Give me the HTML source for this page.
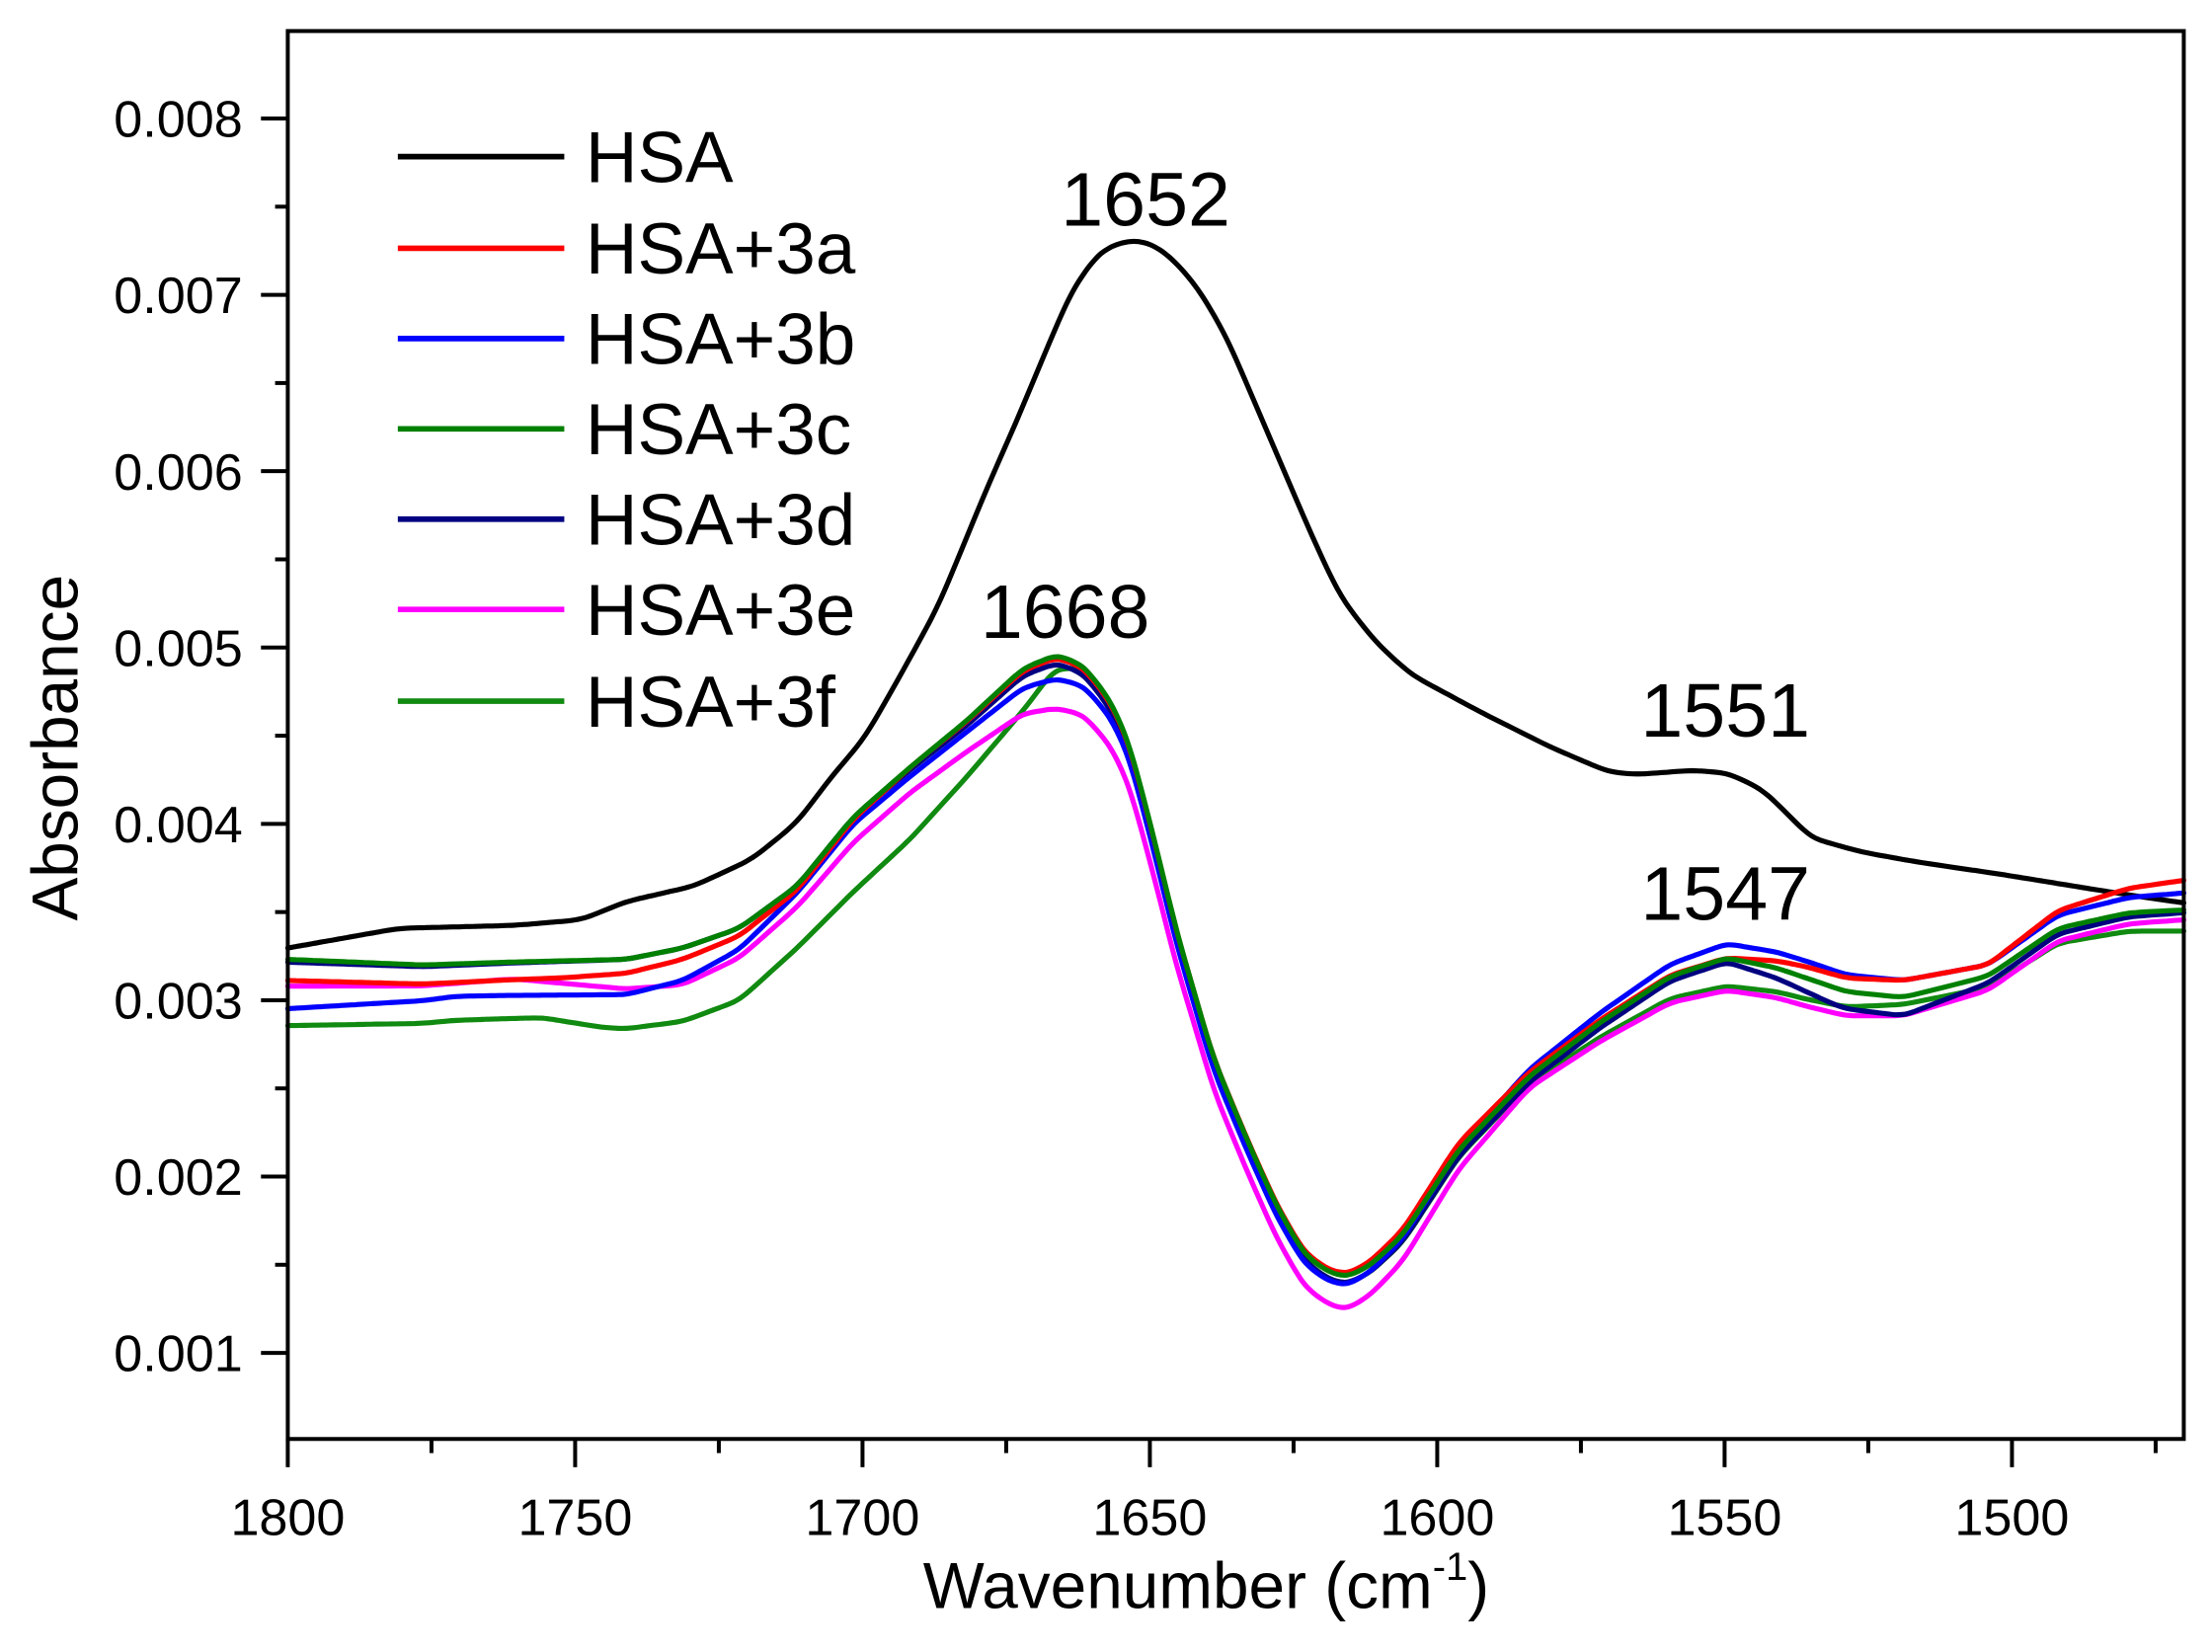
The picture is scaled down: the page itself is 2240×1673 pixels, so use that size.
<!DOCTYPE html>
<html><head><meta charset="utf-8"><style>
html,body{margin:0;padding:0;background:#fff;}
svg{display:block;}
text{font-family:"Liberation Sans",Arial,sans-serif;fill:#000;}
</style></head><body>
<svg id="s" width="2240" height="1673" viewBox="0 0 1568 1171" preserveAspectRatio="none" xmlns="http://www.w3.org/2000/svg">
<g id="curves" fill="none" stroke-width="3.6" stroke-linejoin="round" stroke-linecap="round"></g>
<rect x="204" y="22" width="1344" height="998" fill="none" stroke="#000" stroke-width="2.8"/>
<g id="ticks" stroke="#000" stroke-width="2.8"></g>
<g id="labels" font-size="36.5"></g>
<text x="855" y="1140" font-size="46" text-anchor="middle">Wavenumber (cm<tspan font-size="28" dy="-20">-1</tspan><tspan dy="20">)</tspan></text>
<text transform="translate(55,530) rotate(-90)" font-size="46" text-anchor="middle">Absorbance</text>
<g font-size="54">
<text x="752" y="160">1652</text>
<text x="695" y="452">1668</text>
<text x="1163" y="522">1551</text>
<text x="1163" y="652">1547</text>
</g>
<g id="legend" font-size="51"></g>
</svg>
<script>
var NS="http://www.w3.org/2000/svg";
function el(p,t,a,txt){var e=document.createElementNS(NS,t);for(var k in a)e.setAttribute(k,a[k]);if(txt!=null)e.textContent=txt;p.appendChild(e);return e;}
var ticks=document.getElementById('ticks'),labels=document.getElementById('labels');
for(var i=0;i<=13;i++){var x=204+i*101.85;if(x>1549)break;var maj=i%2==0;
 el(ticks,'line',{x1:x,y1:1020,x2:x,y2:1020+(maj?20:10)});
 if(maj)el(labels,'text',{x:x,y:1088,'text-anchor':'middle'},String(1800-i*25));}
for(var j=0;j<=16;j++){var y=84+j*62.5;if(y>1020)break;var maj=j%2==0;
 el(ticks,'line',{x1:204,y1:y,x2:204-(maj?19:9),y2:y});
 if(maj)el(labels,'text',{x:172,y:y+13,'text-anchor':'end'},(0.008-j/2*0.001).toFixed(3));}
var leg=document.getElementById('legend');
var L=[["HSA","#000"],["HSA+3a","#ff0000"],["HSA+3b","#0000ff"],["HSA+3c","#008000"],["HSA+3d","#000080"],["HSA+3e","#ff00ff"],["HSA+3f","#108a10"]];
var rows=[111,176,240,304,368,432,497];
L.forEach(function(l,i){el(leg,'line',{x1:282,y1:rows[i],x2:400,y2:rows[i],stroke:l[1],'stroke-width':4});el(leg,'text',{x:415,y:rows[i]+18},l[0]);});
function interp(pts,x){if(x<=pts[0][0])return pts[0][1];for(var i=1;i<pts.length;i++){if(x<=pts[i][0]){var a=pts[i-1],b=pts[i];return a[1]+(b[1]-a[1])*(x-a[0])/(b[0]-a[0]);}}return pts[pts.length-1][1];}
function smooth(p){var d="M"+p[0][0]+","+p[0][1];for(var i=0;i<p.length-1;i++){var p0=p[i-1]||p[i],p1=p[i],p2=p[i+1],p3=p[i+2]||p2;
 var c1x=p1[0]+(p2[0]-p0[0])/6,c1y=p1[1]+(p2[1]-p0[1])/6,c2x=p2[0]-(p3[0]-p1[0])/6,c2y=p2[1]-(p3[1]-p1[1])/6;
 d+=" C"+c1x.toFixed(1)+","+c1y.toFixed(1)+" "+c2x.toFixed(1)+","+c2y.toFixed(1)+" "+p2[0].toFixed(1)+","+p2[1].toFixed(1);}return d;}
function avg(p){var o=[];for(var i=0;i<p.length;i++){if(i==0||i==p.length-1){o.push(p[i]);continue;}o.push([p[i][0],(p[i-1][1]+2*p[i][1]+p[i+1][1])/4]);}return o;}
var T=[[204,680],[300,684],[360,682],[444,680],[484,672],[524,658],[565,628],[605,579],[645,544],[685,511],[725,474],[749,464],[768,472],[786,495],[800,525],[817,590],[834,660],[860,750],[884,808],[905,855],[924,888],[940,901],[954,905],[970,898],[994,876],[1034,815],[1084,763],[1134,725],[1184,692],[1224,679],[1259,686],[1309,703],[1349,707],[1409,692],[1459,658],[1509,647],[1548,645]];
var D={
 "#ff0000":[[204,15],[400,12],[484,8],[565,3],[650,0],[749,2],[954,-2],[1034,-5],[1084,-3],[1224,0],[1280,-8],[1349,-12],[1409,-8],[1548,-21]],
 "#0000ff":[[204,35],[323,23],[444,25],[484,23],[524,15],[565,5],[605,5],[685,8],[749,17],[800,10],[954,6],[1084,-5],[1224,-10],[1280,-12],[1349,-12],[1409,-8],[1548,-12]],
 "#108a10":[[204,47],[323,40],[384,40],[428,48],[484,52],[524,51],[565,44],[605,53],[645,51],[685,40],[725,30],[745,12],[765,3],[800,3],[954,5],[1084,5],[1224,20],[1280,15],[1349,5],[1409,8],[1548,15]],
 "#ff00ff":[[204,19],[364,12],[444,21],[484,26],[524,21],[565,15],[605,18],[645,18],[685,22],[725,32],[749,38],[800,30],[850,22],[954,23],[1084,8],[1224,23],[1280,20],[1349,13],[1409,10],[1548,7]],
 "#000080":[[204,2],[444,0],[600,0],[749,6],[900,5],[954,5],[1224,3],[1300,12],[1349,13],[1409,5],[1548,2]],
 "#008000":[[204,0],[1548,0]]
};
var g=document.getElementById('curves');
var B=[[204,672],[283,658],[364,656],[412,652],[444,639],[492,628],[533,609],[565,583],[589,551],[613,523],[637,481],[665,430],[700,345],[720,300],[740,252],[760,205],[780,178],[800,170],[815,172],[830,182],[850,205],[870,240],[900,310],[930,380],[950,423],[975,455],[1000,478],[1050,505],[1100,530],[1140,547],[1160,549],[1200,546],[1225,548],[1250,560],[1284,594],[1320,604],[1359,611],[1420,620],[1494,632],[1520,636],[1548,640]];
var bp=[];for(var x=204;x<=1548;x+=6){bp.push([x,interp(B,x)]);}
el(g,'path',{d:smooth(avg(avg(bp))),stroke:"#000"});
["#108a10","#ff00ff","#000080","#0000ff","#ff0000","#008000"].forEach(function(c){
 var pts=[];for(var x=204;x<=1548;x+=6){pts.push([x,interp(T,x)+interp(D[c],x)]);}
 el(g,'path',{d:smooth(avg(pts)),stroke:c});});
</script>
</body></html>
